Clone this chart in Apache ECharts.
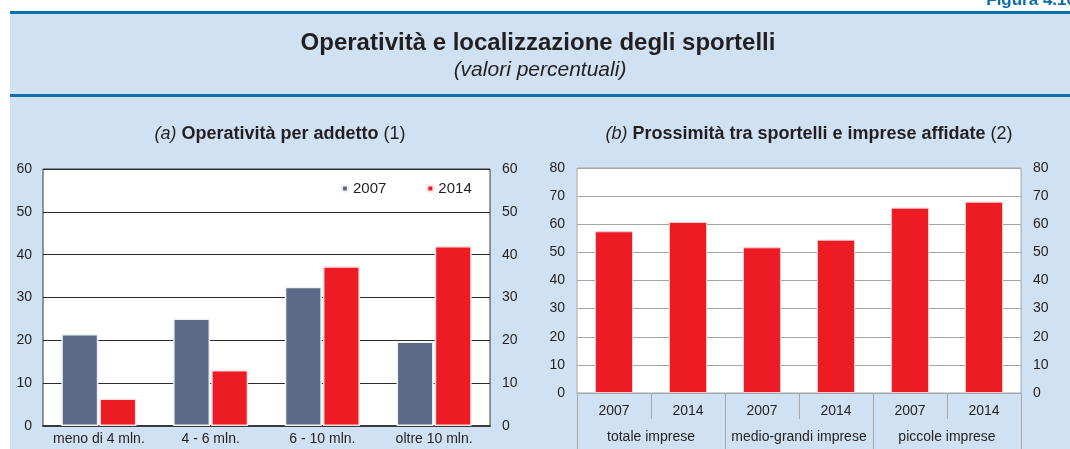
<!DOCTYPE html>
<html>
<head>
<meta charset="utf-8">
<script src="https://cdn.jsdelivr.net/npm/echarts@6/dist/echarts.min.js"></script>
<style>
  html, body { margin: 0; padding: 0; background: #fff; }
  #chart { width: 1070px; height: 449px; }
</style>
</head>
<body>
<div id="chart"></div>
<script>
// Panel (a): operatività per addetto
const sizeClasses = ['meno di 4 mln.', '4 - 6 mln.', '6 - 10 mln.', 'oltre 10 mln.'];
const ops2007 = [21.5, 25.1, 32.5, 19.7];
const ops2014 = [6.4, 13.1, 37.3, 42.0];
const ticksA = { min: 0, max: 60, interval: 10 };

// Panel (b): prossimità tra sportelli e imprese affidate
const yearLabels = ['2007', '2014', '2007', '2014', '2007', '2014'];
const firmGroups = ['totale imprese', 'medio-grandi imprese', 'piccole imprese'];
const proximity = [57.5, 60.8, 51.8, 54.5, 65.9, 68.0];
const ticksB = { min: 0, max: 80, interval: 10 };

const FONT = '"Liberation Sans", Arial, sans-serif';
const TXT = '#231f20';
const PANEL = '#cfe1f2';
const BLUE = '#0b6fae';
const GREY_BAR = '#5b6a86';
const RED = '#ed1c24';

const chart = echarts.init(document.getElementById('chart'), null, { renderer: 'canvas' });

function valueAxis(gridIndex, position, ticks, margin, split) {
  return {
    type: 'value', gridIndex, position,
    min: ticks.min, max: ticks.max, interval: ticks.interval,
    axisLine: { show: false }, axisTick: { show: false },
    axisLabel: { fontFamily: FONT, fontSize: 14, color: TXT, margin },
    splitLine: split ? { show: true, lineStyle: split } : { show: false }
  };
}

function panelTitle(x, mark, label, note) {
  const base = { fontFamily: FONT, fontSize: 18, color: TXT };
  return {
    left: x, top: 120, textAlign: 'center',
    text: '{i|' + mark + '} {b|' + label + '} {n|' + note + '}',
    textStyle: { rich: {
      i: Object.assign({}, base, { fontStyle: 'italic', fontWeight: 'normal' }),
      b: Object.assign({}, base, { fontWeight: 'bold' }),
      n: Object.assign({}, base, { fontWeight: 'normal' })
    } }
  };
}

chart.setOption({
  animation: false,
  textStyle: { fontFamily: FONT },
  graphic: [
    { type: 'rect', silent: true, z: -10, shape: { x: 10, y: 12, width: 1070, height: 449 }, style: { fill: PANEL } },
    { type: 'rect', silent: true, z: -9, shape: { x: 10, y: 11, width: 1070, height: 3 }, style: { fill: BLUE } },
    { type: 'rect', silent: true, z: -9, shape: { x: 10, y: 94, width: 1070, height: 3 }, style: { fill: BLUE } },
    { type: 'text', silent: true, x: 1076, y: 9,
      style: { text: 'Figura 4.10', font: 'bold 17px ' + FONT, fill: BLUE, align: 'right', verticalAlign: 'bottom' } },
    { type: 'text', silent: true, x: 538, y: 43,
      style: { text: 'Operatività e localizzazione degli sportelli', font: 'bold 24px ' + FONT, fill: TXT, align: 'center', verticalAlign: 'middle' } },
    { type: 'text', silent: true, x: 540, y: 70,
      style: { text: '(valori percentuali)', font: 'italic 21px ' + FONT, fill: TXT, align: 'center', verticalAlign: 'middle' } }
  ],
  title: [
    panelTitle(275, '(a)', 'Operatività per addetto', '(1)'),
    panelTitle(804, '(b)', 'Prossimità tra sportelli e imprese affidate', '(2)')
  ],
  legend: {
    data: ['2007', '2014'],
    left: 336, top: 176,
    icon: 'rect', itemWidth: 6, itemHeight: 6, itemGap: 40,
    textStyle: { fontFamily: FONT, fontSize: 15, color: TXT },
    selectedMode: false
  },
  grid: [
    { left: 43, right: 580, top: 169, bottom: 23, show: true, backgroundColor: '#fff', borderColor: '#3a3a3a', borderWidth: 1 },
    { left: 577, right: 49, top: 168, bottom: 56, show: true, backgroundColor: '#fff', borderColor: '#a6a6a6', borderWidth: 1 }
  ],
  xAxis: [
    {
      type: 'category', gridIndex: 0, data: sizeClasses,
      axisLine: { show: true, lineStyle: { color: '#3a3a3a', width: 2 } },
      axisTick: { show: false },
      axisLabel: { fontFamily: FONT, fontSize: 14, color: TXT, margin: 6, interval: 0 }
    },
    {
      type: 'category', gridIndex: 1, data: yearLabels,
      axisLine: { show: true, lineStyle: { color: '#a6a6a6', width: 1 } },
      axisTick: { show: true, length: 26, interval: 0, lineStyle: { color: '#a6a6a6' } },
      axisLabel: { fontFamily: FONT, fontSize: 14, color: TXT, margin: 11, interval: 0 }
    },
    {
      type: 'category', gridIndex: 1, position: 'bottom', data: firmGroups,
      axisLine: { show: false },
      axisTick: { show: true, length: 57, interval: 0, lineStyle: { color: '#a6a6a6' } },
      axisLabel: { fontFamily: FONT, fontSize: 14, color: TXT, margin: 37, interval: 0 }
    }
  ],
  yAxis: [
    valueAxis(0, 'left', ticksA, 11, { color: '#2a2a2a', width: 1 }),
    valueAxis(0, 'right', ticksA, 12, null),
    valueAxis(1, 'left', ticksB, 12, { color: '#a6a6a6', width: 1 }),
    valueAxis(1, 'right', ticksB, 12, null)
  ],
  series: [
    {
      name: '2007', type: 'bar', xAxisIndex: 0, yAxisIndex: 0, data: ops2007,
      barWidth: 37, barGap: '3%',
      itemStyle: { color: GREY_BAR, borderColor: '#f2f2f2', borderWidth: 1.5 }
    },
    {
      name: '2014', type: 'bar', xAxisIndex: 0, yAxisIndex: 0, data: ops2014,
      barWidth: 37, barGap: '3%',
      itemStyle: { color: RED, borderColor: '#fbe3e3', borderWidth: 1.5 }
    },
    {
      name: 'prossimità', type: 'bar', xAxisIndex: 1, yAxisIndex: 2, data: proximity,
      barWidth: 38,
      itemStyle: { color: RED, borderColor: '#f9c9cb', borderWidth: 1 }
    }
  ]
});
</script>
</body>
</html>
